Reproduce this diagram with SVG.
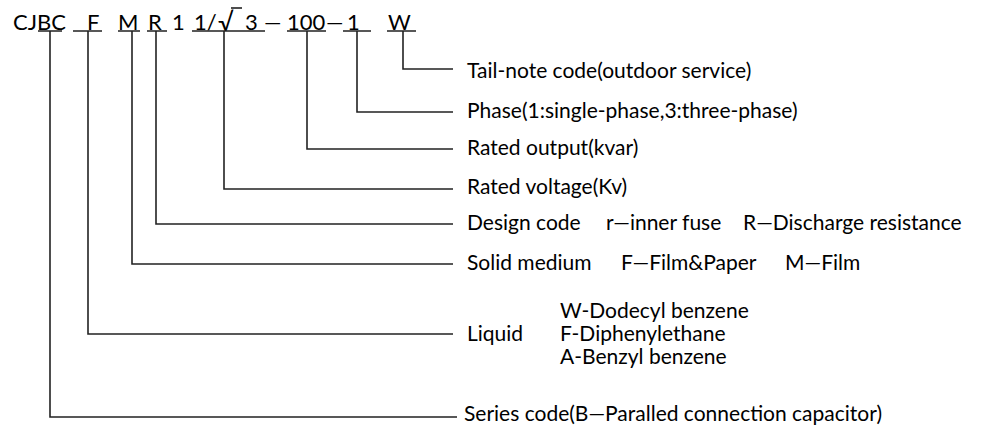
<svg xmlns="http://www.w3.org/2000/svg" width="995" height="427" viewBox="0 0 995 427">
<style>
.t{font-family:Lato,"Open Sans","Liberation Sans",sans-serif;font-size:21px;fill:#000}
.c{font-family:Lato,"Open Sans","Liberation Sans",sans-serif;font-size:22px;fill:#000}
.l{fill:none;stroke:#222;stroke-width:1.6}
</style>
<rect width="995" height="427" fill="#fff"/>
<g id="code">
<text class="c" x="13" y="30">CJBC</text>
<text class="c" x="87" y="30">F</text>
<text class="c" x="118" y="30">M</text>
<text class="c" x="148" y="30">R</text>
<text class="c" x="172" y="30">1</text>
<text class="c" x="194" y="30">1/</text>
<text class="c" x="218" y="31" style="font-size:25px">√</text>
<text class="c" x="245" y="30">3</text>
<text class="c" x="264" y="30">—</text>
<text class="c" x="287" y="30">100</text>
<text class="c" x="326" y="30">—</text>
<text class="c" x="347" y="30">1</text>
<text class="c" x="388" y="30">W</text>
<path class="l" d="M231 8H242"/>
</g>
<g id="connectors">
<path class="l" d="M38 31H62M50 31V417H457"/>
<path class="l" d="M73 31H102M88 31V334H453"/>
<path class="l" d="M118 31H140M132 31V264H453"/>
<path class="l" d="M147 31H167M156 31V224H453"/>
<path class="l" d="M192 31H265M224 31V189H453"/>
<path class="l" d="M287 31H326M307 31V149H453"/>
<path class="l" d="M343 31H371M357 31V112H453"/>
<path class="l" d="M387 31H416M403 31V69H453"/>
</g>
<g id="tail"><text class="t" x="467" y="78">Tail-note code(outdoor service)</text></g>
<g id="phase"><text class="t" x="467" y="118">Phase(1:single-phase,3:three-phase)</text></g>
<g id="output"><text class="t" x="467" y="155">Rated output(kvar)</text></g>
<g id="voltage"><text class="t" x="467" y="194">Rated voltage(Kv)</text></g>
<g id="design"><text class="t" y="230"><tspan x="467">Design code</tspan><tspan x="606">r—inner fuse</tspan><tspan x="743">R—Discharge resistance</tspan></text></g>
<g id="solid"><text class="t" y="270"><tspan x="467">Solid medium</tspan><tspan x="621">F—Film&amp;Paper</tspan><tspan x="785">M—Film</tspan></text></g>
<g id="liquid"><text class="t" x="467" y="341">Liquid</text>
<text class="t" x="560" y="318">W-Dodecyl benzene</text>
<text class="t" x="560" y="341">F-Diphenylethane</text>
<text class="t" x="560" y="364">A-Benzyl benzene</text></g>
<g id="series"><text class="t" x="464" y="421">Series code(B—Paralled connection capacitor)</text></g>
</svg>
